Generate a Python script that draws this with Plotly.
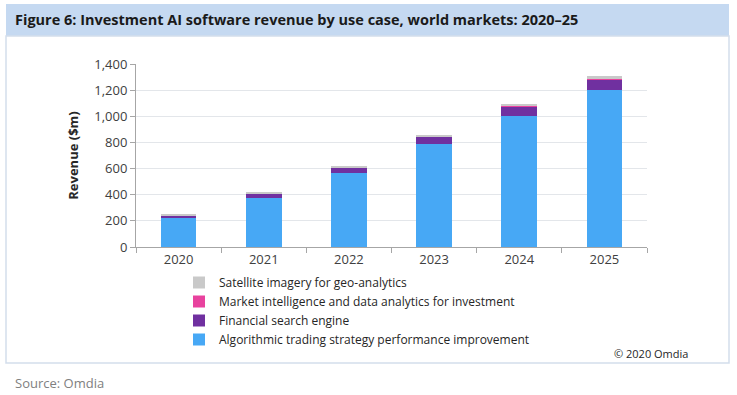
import plotly.graph_objects as go

years = ["2020", "2021", "2022", "2023", "2024", "2025"]
algo = [220, 378, 565, 785, 1005, 1200]
search = [20, 30, 40, 58, 70, 85]
market = [3, 4, 5, 5, 6, 7]
satellite = [7, 8, 10, 10, 12, 14]

series_names = [
    "Algorithmic trading strategy performance improvement",
    "Financial search engine",
    "Market intelligence and data analytics for investment",
    "Satellite imagery for geo-analytics",
]
series_values = [algo, search, market, satellite]
colors = ["#47A8F5", "#7030A0", "#E8429E", "#C9C9C9"]

W, H = 737, 395
L, R, T, B = 136, 647, 64, 247

def px(x):
    return (x - L) / (R - L)

def py(y):
    return (B - y) / (B - T)

fig = go.Figure()
for name, vals, col in zip(series_names, series_values, colors):
    fig.add_trace(go.Bar(x=years, y=vals, name=name, marker_color=col,
                         marker_line_width=0, width=0.42))

font_family = "Open Sans, Liberation Sans, sans-serif"
fig.update_layout(
    width=W, height=H,
    margin=dict(l=L, r=W - R, t=T, b=H - B, pad=0),
    barmode="stack",
    paper_bgcolor="white", plot_bgcolor="white",
    font=dict(family=font_family, size=13, color="#404040"),
    showlegend=True,
    legend=dict(
        traceorder="reversed", orientation="v",
        x=px(179), y=py(268), xanchor="left", yanchor="top",
        font=dict(size=12, color="#262626"),
        itemsizing="constant", itemwidth=30, tracegroupgap=0,
        bgcolor="rgba(0,0,0,0)",
    ),
    xaxis=dict(
        showline=True, linecolor="#A6A6A6", linewidth=1,
        ticks="outside", tickson="boundaries", ticklen=5, tickcolor="#A6A6A6",
        tickfont=dict(size=13, color="#404040"),
        showgrid=False,
    ),
    yaxis=dict(
        range=[0, 1400], dtick=200, tickformat=",",
        showline=True, linecolor="#A6A6A6", linewidth=1,
        ticks="outside", ticklen=5, tickcolor="#A6A6A6",
        gridcolor="#E3E6EA", gridwidth=1,
        tickfont=dict(size=13, color="#404040"),
        zeroline=False,
        title=dict(text="<b>Revenue ($m)</b>", font=dict(size=13, color="#262626"), standoff=12),
    ),
    shapes=[
        dict(type="rect", xref="paper", yref="paper",
             x0=px(6), x1=px(729), y0=py(36), y1=py(4),
             fillcolor="#C5D9F1", line=dict(width=0), layer="below"),
        dict(type="rect", xref="paper", yref="paper",
             x0=px(6), x1=px(729), y0=py(363), y1=py(36),
             fillcolor="rgba(0,0,0,0)", line=dict(color="#D3DEEC", width=1.5), layer="below"),
    ],
    annotations=[
        dict(text="<b>Figure 6: Investment AI software revenue by use case, world markets: 2020–25</b>",
             xref="paper", yref="paper", x=px(13), y=py(20), xanchor="left", yanchor="middle",
             showarrow=False, font=dict(size=14.5, color="#1A1A1A", family=font_family)),
        dict(text="© 2020 Omdia", xref="paper", yref="paper", x=px(690), y=py(353),
             xanchor="right", yanchor="middle", showarrow=False,
             font=dict(size=11, color="#262626")),
        dict(text="Source: Omdia", xref="paper", yref="paper", x=px(13), y=py(383),
             xanchor="left", yanchor="middle", showarrow=False,
             font=dict(size=13, color="#808080")),
    ],
)

fig.write_html("out.html", config={"displayModeBar": False},
               post_script="document.body.style.margin='0';document.body.style.overflow='hidden';")
